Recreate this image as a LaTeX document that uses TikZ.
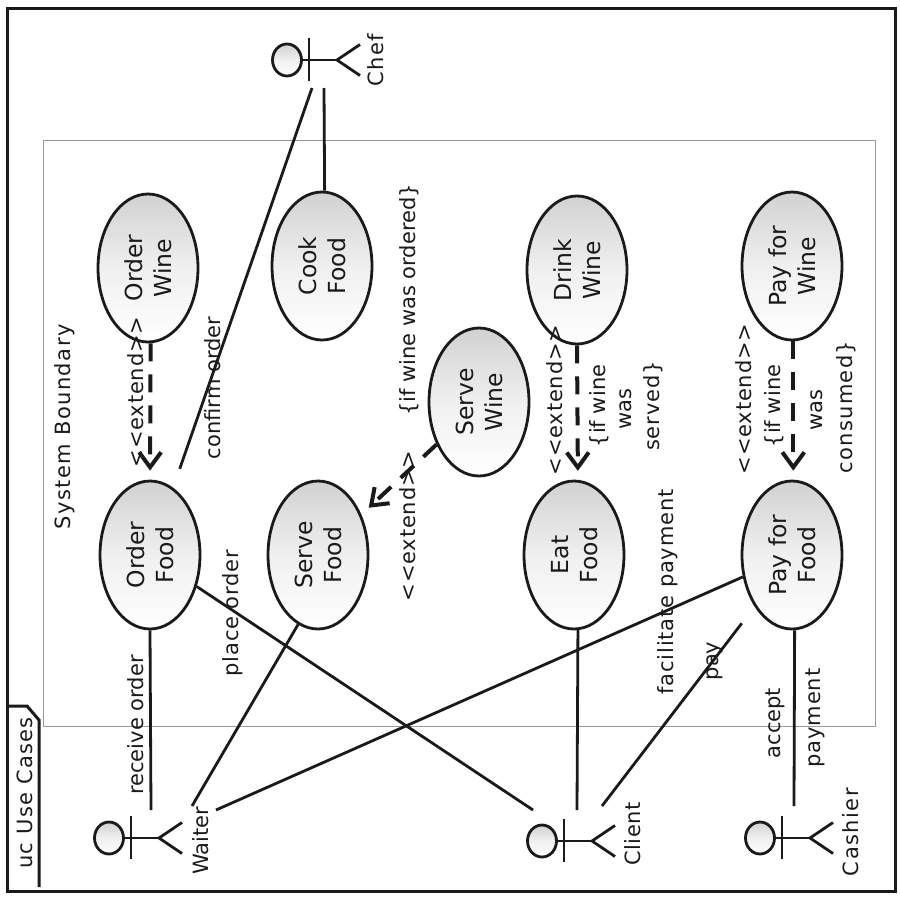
\documentclass[tikz,border=0pt]{standalone}
\usepackage{fontspec}
\usepackage{graphicx}
\setmainfont{DejaVu Sans}
\usetikzlibrary{shapes.geometric,arrows.meta}
\definecolor{ink}{HTML}{1A1A1A}
\newcommand{\twol}[2]{\rotatebox{90}{\fontsize{23.5}{29}\selectfont\raisebox{0pt}[\dimexpr\height+6pt\relax][\depth]{\begin{tabular}{@{}c@{}}#1\\#2\end{tabular}}}}
\newcommand{\spc}[1]{\addfontfeature{LetterSpace=#1}}
\newcommand{\extlab}{\spc{4}<{}<{}extend>{}>}
\tikzset{
  every node/.style={font=\fontsize{21}{28}\selectfont,text=ink,inner sep=0pt},
  usecase/.style={ellipse,draw=ink,line width=2.8pt,top color=black!18,bottom color=white,middle color=black!6,minimum width=100pt,minimum height=148pt},
  lab/.style={rotate=90,anchor=base},
  conn/.style={draw=ink,line width=2.8pt},
  ext/.style={draw=ink,line width=4pt,dash pattern=on 18pt off 13pt,-{Straight Barb[length=15pt,width=22pt,line width=4pt]}},
  frameline/.style={draw=ink,line width=3pt},
  pics/actor/.style={code={
    \node[ellipse,draw=ink,line width=2.8pt,top color=black!18,bottom color=white,middle color=black!6,minimum width=29pt,minimum height=32pt] (-head) at (0,0) {};
    \draw[conn] (22,-22) -- (22,21);
    \draw[conn] (-head) -- (50,0);
    \draw[conn] (73,-15.5) -- (50,0) -- (73,15.5);
  }}
}
\begin{document}
\begin{tikzpicture}[x=1pt,y=-1pt]
\useasboundingbox (0,0) rectangle (900,900);
\fill[white] (0,0) rectangle (900,900);
\draw[frameline] (7,8) rectangle (895,891);
\draw[gray!80,line width=0.8pt] (43,140) rectangle (875,726);
\draw[frameline] (7,706) -- (27,706) -- (39,720) -- (39,887);
\node[lab] (uclab) at (32,793) {\spc{6}uc Use Cases};
\node[lab] (sblab) at (70,427) {\spc{7}System Boundary};

\node[usecase] (orderwine) at (148,268) {\twol{Order}{Wine}};
\node[usecase] (cook) at (322,266) {\twol{Cook}{Food}};
\node[usecase] (drink) at (577,270) {\twol{Drink}{Wine}};
\node[usecase] (paywine) at (792,266) {\twol{Pay for}{Wine}};
\node[usecase] (servewine) at (479,402) {\twol{Serve}{Wine}};
\node[usecase] (orderfood) at (150,555) {\twol{Order}{Food}};
\node[usecase] (servefood) at (318,555) {\twol{Serve}{Food}};
\node[usecase] (eat) at (574,555) {\twol{Eat}{Food}};
\node[usecase] (payfood) at (792,555) {\twol{Pay for}{Food}};

\pic (chef) at (287,60) {actor};
\pic (waiter) at (109,838) {actor};
\pic (client) at (542,841) {actor};
\pic (cashier) at (760,838) {actor};
\node[lab] (cheflab) at (383,60) {\spc{6}Chef};
\node[lab] (waiterlab) at (208,841) {Waiter};
\node[lab] (clientlab) at (640,834) {\spc{3}Client};
\node[lab] (cashierlab) at (858,832) {\spc{7}Cashier};

\coordinate (chefA) at (312,88);
\coordinate (chefB) at (324,88);
\coordinate (waiterA) at (151,810);
\coordinate (waiterB) at (192,806);
\coordinate (waiterC) at (216,810);
\coordinate (clientA) at (533,810);
\coordinate (clientB) at (577,810);
\coordinate (clientC) at (602,806);
\coordinate (cashierA) at (794,806);

\draw[conn,shorten <=20pt] (orderfood.71.5) -- (chefA);
\draw[conn] (cook.88) -- (chefB);
\draw[conn] (orderfood.south) -- (waiterA);
\draw[conn] (servefood.-106.3) -- (waiterB);
\draw[conn] (payfood.204.3) -- (waiterC);
\draw[conn] (orderfood.-34.8) -- (clientA);
\draw[conn] (eat.-87.7) -- (clientB);
\draw[conn,shorten <=21pt] (payfood.234) -- (clientC);
\draw[conn] (payfood.-88.5) -- (cashierA);

\draw[ext,shorten >=9pt] (orderwine.-88) -- (orderfood.north);
\draw[ext,shorten >=9pt] (drink.south) -- (eat.87.7);
\draw[ext,shorten >=9pt] (paywine.-89) -- (payfood.89);
\draw[ext,shorten >=10pt] (servewine.225.6) -- (servefood.43.4);

\node[lab] (l1) at (143,392) {\extlab};
\node[lab] (l2) at (415,526) {\extlab};
\node[lab] (l3) at (562,400) {\extlab};
\node[lab] (l4) at (751,399) {\extlab};
\node[lab] (l5) at (220,388) {confirm order};
\node[lab] (l6) at (143,725) {receive order};
\node[lab] (l7) at (238,613) {\spc{4}place order};
\node[lab] (l8) at (415,300) {\{if wine was ordered\}};
\node[lab] (l9a) at (605,406) {\{if wine};
\node[lab] (l9b) at (631,409) {was};
\node[lab] (l9c) at (659,406) {\spc{4}served\}};
\node[lab] (l10a) at (780,406) {\{if wine};
\node[lab] (l10b) at (822,410) {was};
\node[lab] (l10c) at (852,407) {\spc{6}consumed\}};
\node[lab] (l11) at (673,592) {\spc{4}facilitate payment};
\node[lab] (l12) at (718,661) {pay};
\node[lab] (l13) at (780,723) {accept};
\node[lab] (l14) at (820,718) {\spc{4}payment};
\end{tikzpicture}
\end{document}
